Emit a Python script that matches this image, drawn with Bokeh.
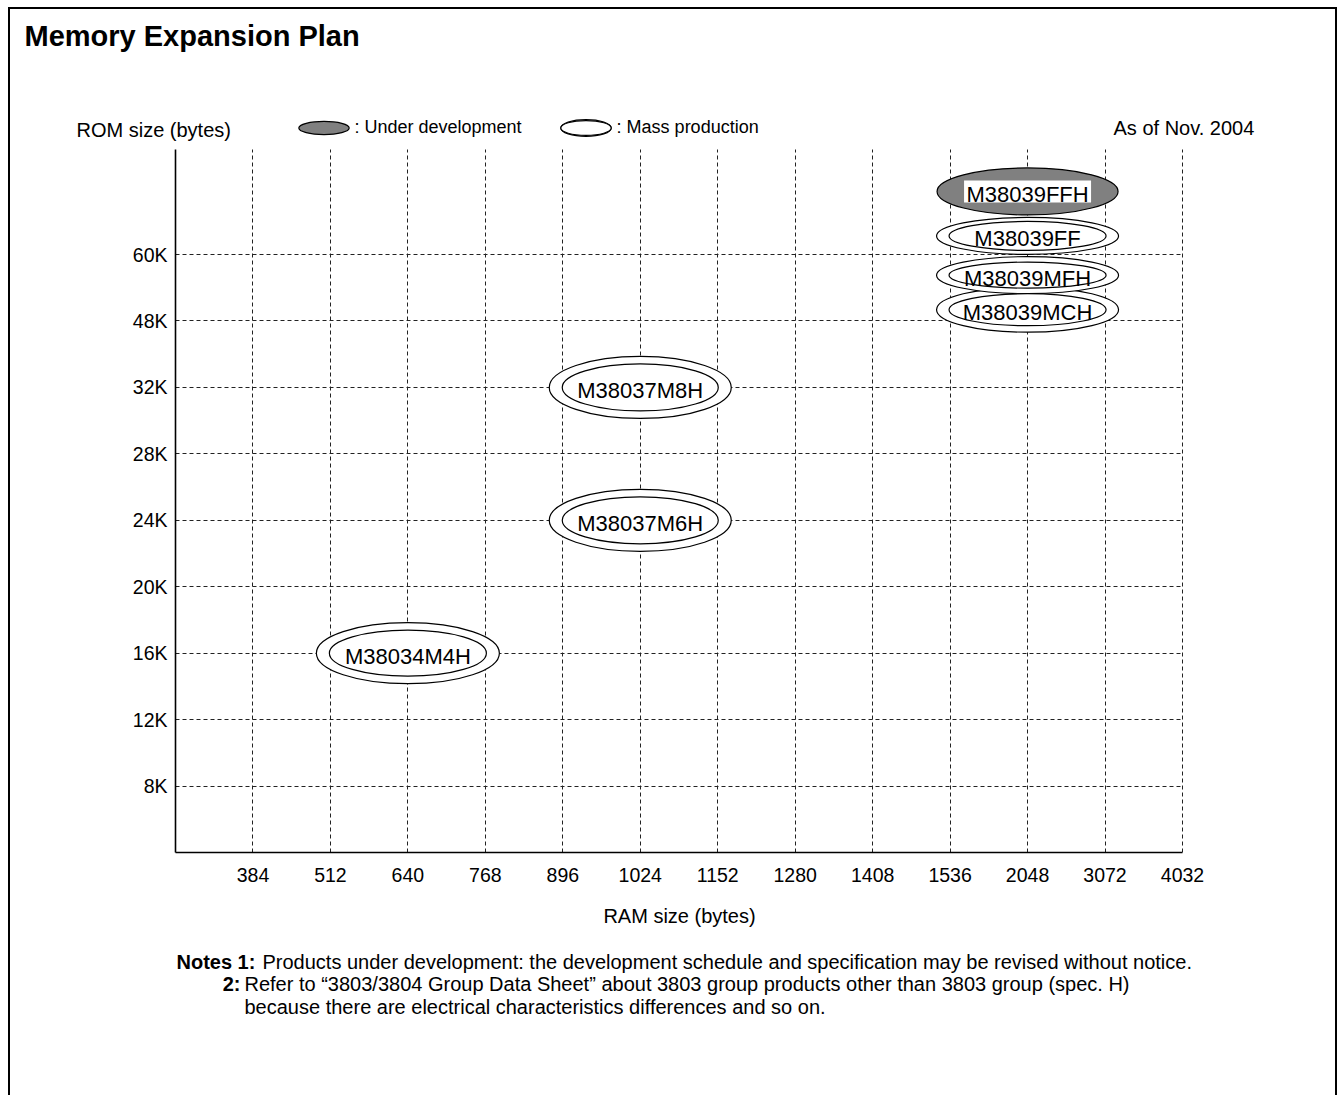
from bokeh.plotting import figure
from bokeh.models import (Range1d, FixedTicker, Label, Legend, LegendItem,
                          ColumnDataSource)
from bokeh.core.properties import value
from bokeh.embed import file_html
from bokeh.resources import INLINE

FONT = "Liberation Sans"

# ---------------- data ----------------
ram_ticks = [384, 512, 640, 768, 896, 1024, 1152, 1280, 1408, 1536, 2048, 3072, 4032]
rom_ticks = ["8K", "12K", "16K", "20K", "24K", "28K", "32K", "48K", "60K"]

products = ["M38034M4H", "M38037M6H", "M38037M8H", "M38039MCH",
            "M38039MFH", "M38039FF", "M38039FFH"]
ram = [640, 1024, 1024, 2048, 2048, 2048, 2048]
rom = ["16K", "24K", "32K", "48K", "60K", "60K", "60K"]
status = ["mass", "mass", "mass", "mass", "mass", "mass", "dev"]

# ---------------- layout (not data) ----------------
stack_offset = [0, 0, 0, 0.17, -0.31, 0.28, 0.95]   # stacking of products sharing a cell
outer_w = [183, 182, 182, 182, 182, 182, 181]
outer_h = [61, 62, 62, 45, 37, 37, 47]
inner_w = [157, 156, 156, 157, 157, 157, 0]
inner_h = [46, 47, 47, 32, 26, 29, 0]

xs = [ram_ticks.index(r) + 1 for r in ram]
ys = [rom_ticks.index(r) + 1 + o for r, o in zip(rom, stack_offset)]


def subset(kind):
    idx = [i for i, s in enumerate(status) if s == kind]
    return ColumnDataSource(dict(
        x=[xs[i] for i in idx], y=[ys[i] for i in idx],
        name=[products[i] for i in idx],
        ow=[outer_w[i] for i in idx], oh=[outer_h[i] for i in idx],
        iw=[inner_w[i] for i in idx], ih=[inner_h[i] for i in idx]))


mass_src = subset("mass")
dev_src = subset("dev")
all_src = ColumnDataSource(dict(x=xs, y=ys, name=products))

W, H = 1339, 1095
FL, FT, FR, FB = 175, 88, 1183, 852      # plot frame edges (px)
UX, UY = 77.46, 66.44                    # px per category step
X_END = len(ram_ticks)                   # axis extent in category steps
Y_END = 10.58

p = figure(width=W, height=H,
           x_range=Range1d(0, (FR - FL) / UX),
           y_range=Range1d(0, (FB - FT) / UY),
           output_backend="svg", toolbar_location=None, title_location=None,
           min_border_left=FL, min_border_right=W - FR,
           min_border_top=FT, min_border_bottom=H - FB)
p.styles = {"background": (
    "linear-gradient(#000,#000) 8px 7px / 2px 1200px no-repeat, "
    "linear-gradient(#000,#000) 8px 7px / 1329px 2px no-repeat, "
    "linear-gradient(#000,#000) 1335px 7px / 2px 1200px no-repeat, #ffffff")}
p.outline_line_color = None
p.background_fill_alpha = 0
p.border_fill_alpha = 0

# axes
xt = list(range(1, len(ram_ticks) + 1))
yt = list(range(1, len(rom_ticks) + 1))
p.xaxis.ticker = FixedTicker(ticks=xt)
p.xaxis.major_label_overrides = {t: str(v) for t, v in zip(xt, ram_ticks)}
p.yaxis.ticker = FixedTicker(ticks=yt)
p.yaxis.major_label_overrides = {t: v for t, v in zip(yt, rom_ticks)}
p.xaxis.bounds = (0, X_END)
p.yaxis.bounds = (0, Y_END)
for ax in (p.xaxis[0], p.yaxis[0]):
    ax.axis_line_color = "black"
    ax.axis_line_width = 1.6
    ax.major_tick_line_color = None
    ax.minor_tick_line_color = None
    ax.major_label_text_font = FONT
    ax.major_label_text_font_size = "19.5px"
    ax.major_label_text_color = "black"
p.xaxis.major_label_standoff = 9
p.yaxis.major_label_standoff = 2
p.xaxis.axis_label = "RAM size (bytes)"
p.xaxis.axis_label_text_font = FONT
p.xaxis.axis_label_text_font_size = "20px"
p.xaxis.axis_label_text_font_style = "normal"
p.xaxis.axis_label_text_color = "black"
p.xaxis.axis_label_standoff = 20

# grid (dashed, limited to the axis extent)
GRID = dict(line_color="#222222", line_width=1, line_dash="4 3")
p.xgrid.ticker = FixedTicker(ticks=xt)
p.ygrid.ticker = FixedTicker(ticks=yt)
try:
    p.xgrid[0].cross_bounds = (0, Y_END)
    p.ygrid[0].cross_bounds = (0, X_END)
    for g in (p.xgrid[0], p.ygrid[0]):
        g.grid_line_color = GRID["line_color"]
        g.grid_line_width = GRID["line_width"]
        g.grid_line_dash = GRID["line_dash"]
        g.grid_line_alpha = 1
except Exception:
    p.xgrid.visible = False
    p.ygrid.visible = False
    p.segment(x0=xt, y0=[0] * len(xt), x1=xt, y1=[Y_END] * len(xt), **GRID)
    p.segment(x0=[0] * len(yt), y0=yt, x1=[X_END] * len(yt), y1=yt, **GRID)

# products
outer_r = p.ellipse(x="x", y="y", width="ow", height="oh",
                    width_units="screen", height_units="screen", source=mass_src,
                    fill_color="white", line_color="black", line_width=1.2)
inner_r = p.ellipse(x="x", y="y", width="iw", height="ih",
                    width_units="screen", height_units="screen", source=mass_src,
                    fill_color="white", line_color="black", line_width=1.2)
dev_r = p.ellipse(x="x", y="y", width="ow", height="oh",
                  width_units="screen", height_units="screen", source=dev_src,
                  fill_color="#808080", line_color="black", line_width=1.2)
p.rect(x="x", y="y", width=127, height=22, width_units="screen",
       height_units="screen", source=dev_src, fill_color="white", line_color=None)
p.text(x="x", y="y", text="name", source=all_src, text_font=value(FONT),
       text_font_size=value("22px"), text_align="center",
       text_baseline="middle", y_offset=3, text_color="black")

# legend inside the (upward extended) frame
LEG_H = 63
legend = Legend(items=[LegendItem(label=": Under development", renderers=[dev_r]),
                       LegendItem(label=": Mass production", renderers=[outer_r, inner_r])],
                location=(291.5 - FL, FB - 96 - LEG_H), orientation="horizontal",
                glyph_width=63, glyph_height=LEG_H, label_standoff=-3, spacing=32,
                padding=0, margin=0, background_fill_alpha=0, border_line_alpha=0,
                label_text_font=FONT, label_text_font_size="18px",
                label_text_color="black")
p.add_layout(legend, "center")


def label(text, x, y, size="20px", bold=False, align="left"):
    return Label(x=x, y=y, x_units="screen", y_units="screen", text=text,
                 text_font=FONT, text_font_size=size,
                 text_font_style="bold" if bold else "normal",
                 text_align=align, text_baseline="alphabetic", text_color="black")


# right of the frame (panel starts at the frame's right edge, bottom at frame bottom)
p.add_layout(label("As of Nov. 2004", 1113 - FR, FB - 135 + 8), "right")

# rows above the frame (each label's row bottom, px)
TITLE_ROW_H = 27
p.add_layout(label("Memory Expansion Plan", 24 - FL, FT - 45 + 10, "29px", True), "above")
p.add_layout(label("ROM size (bytes)", 76 - FL, (FT - TITLE_ROW_H) - 137 + 3), "above")

# rows below the x axis (row bottoms measured, px)
notes = [
    ("Notes 1:", 176, 966, True, "left"),
    ("Products under development: the development schedule and specification may be revised without notice.",
     262, 968, False, "left"),
    ("2:", 240, 989, True, "right"),
    ("Refer to \u201c3803/3804 Group Data Sheet\u201d about 3803 group products other than 3803 group (spec. H)",
     244, 991, False, "left"),
    ("because there are electrical characteristics differences and so on.",
     244, 1013, False, "left"),
]
row_bottom = [956, 980, 1001, 1025, 1046]
for (text, X, Y, bold, align), rb in zip(notes, row_bottom):
    p.add_layout(label(text, X - FL, rb - Y, "20px", bold, align), "below")

open("out.html", "w").write(file_html(p, INLINE))
